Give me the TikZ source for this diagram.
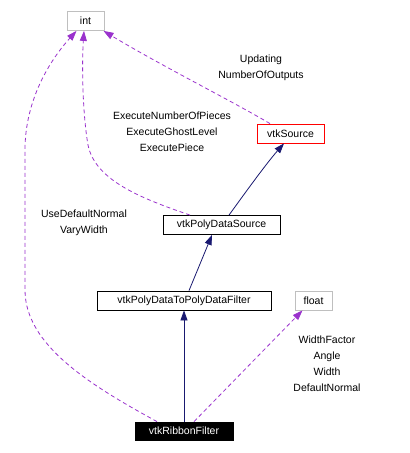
\documentclass[tikz,border=0pt]{standalone}
\usepackage{fontspec}
\setmainfont{Liberation Sans}
\usetikzlibrary{arrows.meta}
\definecolor{edgeblue}{HTML}{191970}
\definecolor{edgepurple}{HTML}{9A32CD}
\definecolor{boxgray}{HTML}{BFBFBF}
\begin{document}
\begin{tikzpicture}[x=1bp,y=-1bp,
  every node/.style={font=\fontsize{10.5bp}{12.5bp}\selectfont, inner sep=0pt},
  cls/.style={draw=black, fill=white, minimum height=19bp, line width=0.8pt},
  ext/.style={draw=boxgray, fill=white, minimum height=19bp, line width=0.8pt},
  lbl/.style={align=center},
  inh/.style={draw=edgeblue, line width=0.8pt, -{Triangle[length=10bp,width=7bp]}, fill=none},
  use/.style={draw=edgepurple, line width=0.8pt, dash pattern=on 4bp off 3bp, -{Triangle[length=10bp,width=7bp,fill=edgepurple]}}
  ]
\useasboundingbox (0,0) rectangle (409,453);
\fill[white] (0,0) rectangle (409,453);

\node[ext, minimum width=37bp] (int) at (85.5,21) {int};
\node[cls, draw=red, minimum width=67bp] (src) at (290.5,133.5) {vtkSource};
\node[cls, minimum width=117bp] (pds) at (221.5,225) {vtkPolyDataSource};
\node[cls, minimum width=174bp] (pdf) at (184,300.5) {vtkPolyDataToPolyDataFilter};
\node[ext, minimum width=37bp] (flt) at (313.5,300.5) {float};
\node[cls, fill=black, text=white, minimum width=98bp, minimum height=18bp] (rib) at (184,431) {vtkRibbonFilter};

% inheritance
\draw[inh] ([xshift=7.5bp]pds.north) .. controls (240,200) and (265,165) .. ([xshift=-6.5bp]src.south);
\draw[inh] ([xshift=5bp]pdf.north) -- ([xshift=-9.5bp]pds.south);
\draw[inh] (rib.north) -- (pdf.south);

% usage
\draw[use] ([xshift=-20.5bp]src.north) .. controls (230,100) and (160,65) .. ([xshift=18bp]int.south);
\draw[use] ([xshift=-31.5bp]pds.north) .. controls (140,198) and (95,180) .. (88,145) .. controls (82,110) and (82,60) .. ([xshift=-1.5bp]int.south);
\draw[use] ([xshift=-27bp]rib.north) .. controls (90,385) and (25,345) .. (25,290) -- (25,150) .. controls (25,100) and (50,60) .. ([xshift=-9bp]int.south);
\draw[use] ([xshift=10bp]rib.north) -- ([xshift=-11bp]flt.south);

% labels
\node[lbl] (l1) at (261,68) {Updating\\[3.5bp]NumberOfOutputs};
\node[lbl] (l2) at (172,132) {ExecuteNumberOfPieces\\[3.5bp]ExecuteGhostLevel\\[3.5bp]ExecutePiece};
\node[lbl] (l3) at (84,223) {UseDefaultNormal\\[3.5bp]VaryWidth};
\node[lbl] (l4) at (327,364) {WidthFactor\\[3.5bp]Angle\\[3.5bp]Width\\[3.5bp]DefaultNormal};
\end{tikzpicture}
\end{document}
